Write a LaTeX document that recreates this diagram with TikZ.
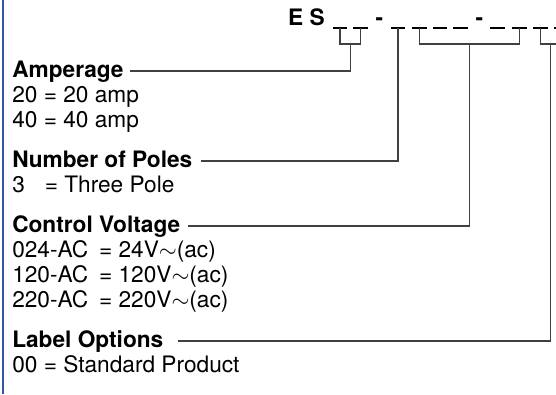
\documentclass[tikz,border=0pt]{standalone}
\usepackage{fontspec}
\setmainfont{TeX Gyre Heros}
\usepackage{tikz}
\usetikzlibrary{positioning}
\definecolor{barblue}{RGB}{50,85,165}
\tikzset{
    head/.style={
           anchor=base west,
           inner sep=0pt,
           font=\fontsize{17}{18}\selectfont\bfseries,
           },
}
\tikzset{
    item/.style={
           anchor=base west,
           inner sep=0pt,
           font=\fontsize{17}{18}\selectfont,
           },
}
\tikzset{
    code/.style={
           anchor=base,
           inner sep=0pt,
           font=\fontsize{17}{18}\selectfont\bfseries,
           },
}
\tikzset{
    slot/.style={
           line width=1pt,
           draw=black,
           },
}
\tikzset{
    link/.style={
           line width=0.95pt,
           draw=black!75,
           },
}

\begin{document}
\begin{tikzpicture}[x=0.75pt,y=-0.75pt]
\useasboundingbox (0,0) rectangle (556,394);
\draw[barblue,line width=1.5pt] (2.5,0) -- (2.5,394);
% part number
\node[code,anchor=base east](es) at (325,25){E S};
\node[code](d1) at (379.5,25){-};
\node[code](d2) at (479.5,25){-};
\foreach \x [count=\i] in {340,360.5,398,419.5,440,460.5,497.5,519.5,540.5,561}{
  \coordinate (s\i) at (\x,28);
  \draw[slot] ([xshift=-5.4pt]s\i) -- ([xshift=5.4pt]s\i);
}
% option groups
\node[head](amp) at (12,77){Amperage};
\node[item](a20) at ([yshift=-18.75pt]amp.base west){20 = 20 amp};
\node[item](a40) at ([yshift=-18.75pt]a20.base west){40 = 40 amp};
\node[head](pol) at ([yshift=-30pt]a40.base west){Number of Poles};
\node[item](p3) at ([yshift=-18.75pt]pol.base west){3\hspace{0.6em} = Three Pole};
\node[head](cv) at ([yshift=-30pt]p3.base west){Control Voltage};
\node[item](v24) at ([yshift=-18.75pt]cv.base west){024-AC\hspace{0.2em} = 24V$\sim$(ac)};
\node[item](v120) at ([yshift=-18.75pt]v24.base west){120-AC\hspace{0.2em} = 120V$\sim$(ac)};
\node[item](v220) at ([yshift=-18.75pt]v120.base west){220-AC\hspace{0.2em} = 220V$\sim$(ac)};
\node[head](lab) at ([yshift=-30pt]v220.base west){Label Options};
\node[item](l00) at ([yshift=-18.75pt]lab.base west){00 = Standard Product};
% brackets
\path (s1) -- (s2) coordinate[midway] (mA);
\path (s4) -- (s8) coordinate[midway] (mV);
\path (s9) -- (s10) coordinate[midway] (mL);
\draw[link] (s1) -- ++(0,16) -| (s2);
\draw[link] (s4) -- ++(0,16) -| (s8);
\draw[link] (s9) -- ++(0,16) -| (s10);
% connectors
\draw[link] ([xshift=5pt,yshift=4.5pt]amp.base east) -| ([yshift=-12pt]mA);
\draw[link] ([xshift=6pt,yshift=4.5pt]pol.base east) -| (s3);
\draw[link] ([xshift=6pt,yshift=4.5pt]cv.base east) -| ([yshift=-12pt]mV);
\draw[link] ([xshift=11pt,yshift=4.5pt]lab.base east) -| ([yshift=-12pt]mL);
\end{tikzpicture}
\end{document}
